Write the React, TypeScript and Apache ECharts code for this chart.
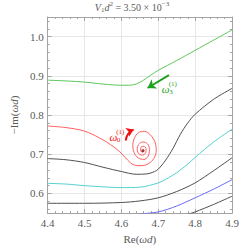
import React, { useEffect, useRef } from "react";
import * as echarts from "echarts";

// ---- data ----
const xRange = [4.4, 4.9];
const yRange = [0.55, 1.05];

const greenCurve: [number, number][] = [
  [4.4, 0.889], [4.45, 0.887], [4.5, 0.884], [4.55, 0.879], [4.6, 0.876], [4.62, 0.876],
  [4.64, 0.879], [4.66, 0.889], [4.68, 0.902], [4.7, 0.914], [4.75, 0.939], [4.8, 0.965],
  [4.85, 0.991], [4.9, 1.017],
];
const blackCurve1: [number, number][] = [
  [4.4, 0.689], [4.45, 0.686], [4.5, 0.679], [4.55, 0.667], [4.6, 0.656], [4.64, 0.649],
  [4.67, 0.650], [4.69, 0.656], [4.7, 0.662], [4.72, 0.685], [4.74, 0.715], [4.76, 0.751],
  [4.78, 0.780], [4.8, 0.802], [4.85, 0.840], [4.9, 0.868],
];
const cyanCurve: [number, number][] = [
  [4.4, 0.626], [4.45, 0.624], [4.5, 0.620], [4.55, 0.617], [4.6, 0.615], [4.65, 0.616],
  [4.7, 0.627], [4.72, 0.636], [4.75, 0.653], [4.78, 0.675], [4.8, 0.692], [4.85, 0.731],
  [4.9, 0.764],
];
const blackCurve2: [number, number][] = [
  [4.4, 0.575], [4.5, 0.575], [4.6, 0.577], [4.65, 0.581], [4.7, 0.589], [4.75, 0.605],
  [4.8, 0.627], [4.85, 0.658], [4.9, 0.691],
];
const blueCurve: [number, number][] = [
  [4.65, 0.548], [4.7, 0.553], [4.75, 0.568], [4.8, 0.589], [4.85, 0.611], [4.9, 0.635],
];
const blackCurve3: [number, number][] = [
  [4.78, 0.547], [4.8, 0.553], [4.85, 0.572], [4.9, 0.593],
];
const redCurve: [number, number][] = [
  [4.4, 0.772], [4.45, 0.768], [4.5, 0.759], [4.54, 0.742], [4.57, 0.725], [4.596, 0.706],
  [4.617, 0.685], [4.633, 0.6733], [4.653, 0.6709], [4.673, 0.6758], [4.688, 0.6894],
  [4.6945, 0.7091], [4.691, 0.7314], [4.678, 0.7499], [4.662, 0.7585], [4.646, 0.7548],
  [4.636, 0.7425], [4.631, 0.724], [4.6345, 0.7042], [4.646, 0.6906], [4.661, 0.6869],
  [4.672, 0.6943], [4.676, 0.7116], [4.671, 0.7264], [4.658, 0.7314], [4.647, 0.7252],
  [4.643, 0.7116], [4.648, 0.7005], [4.658, 0.698], [4.666, 0.7042], [4.667, 0.7141],
  [4.661, 0.7202], [4.653, 0.7178], [4.652, 0.7091], [4.658, 0.7054], [4.662, 0.7104],
  [4.658, 0.7128],
];
const spiralCenter: [number, number][] = [[4.658, 0.709]];
const greenArrow: [number, number][] = [[4.729, 0.902], [4.671, 0.869]];
const redArrow: [number, number][] = [[4.612, 0.735], [4.633, 0.763]];
const redLabelAt: [number, number] = [4.578, 0.745];
const greenLabelAt: [number, number] = [4.72, 0.866];
const redLabel = { main: "ω", sub: "0", sup: "(1)" };
const greenLabel = { main: "ω", sub: "3", sup: "(1)" };

const SERIF = "Liberation Serif";
const FRAME = "#a3a3a3";
const TXT = "#5a5a5a";

function isTenth(v: number) {
  return Math.abs(v * 10 - Math.round(v * 10)) < 1e-6;
}

function lineSeries(data: [number, number][], color: string, smooth = 0.3) {
  return {
    type: "line",
    data,
    showSymbol: false,
    smooth,
    lineStyle: { color, width: 1 },
    z: 3,
  };
}

function arrowSeries(coords: [number, number][], color: string, width: number, size: number, curveness: number) {
  return {
    type: "lines",
    coordinateSystem: "cartesian2d",
    xAxisIndex: 0,
    yAxisIndex: 0,
    symbol: ["none", "arrow"],
    symbolSize: size,
    lineStyle: { color, width, curveness, opacity: 1 },
    data: [{ coords }],
    z: 5,
  };
}

export default function App() {
  const ref = useRef<HTMLDivElement>(null);
  useEffect(() => {
    if (!ref.current) return;
    const chart = echarts.init(ref.current, undefined, { renderer: "svg" });
    const axisCommon = {
      type: "value",
      axisLine: { show: true, onZero: false, lineStyle: { color: FRAME, width: 1 } },
      axisTick: { show: true, inside: true, length: 4, lineStyle: { color: FRAME } },
      minorTick: { show: true, splitNumber: 5, length: 2, lineStyle: { color: FRAME } },
    };
    chart.setOption({
      animation: false,
      backgroundColor: "#ffffff",
      grid: { left: 32, right: 17, top: 17, bottom: 31, containLabel: false },
      xAxis: [
        {
          ...axisCommon,
          position: "bottom",
          min: xRange[0],
          max: xRange[1],
          interval: 0.1,
          axisLabel: {
            margin: 4,
            color: TXT,
            fontFamily: SERIF,
            fontSize: 11,
            formatter: (v: number) => (isTenth(v) ? v.toFixed(1) : ""),
          },
          splitLine: { show: true, lineStyle: { color: "#e6e6e6", width: 1 } },
          name: "Re({i|ωd})",
          nameLocation: "middle",
          nameGap: 18,
          nameTextStyle: {
            color: TXT,
            fontFamily: SERIF,
            fontSize: 11,
            verticalAlign: "top",
            rich: { i: { fontStyle: "italic", fontFamily: SERIF, fontSize: 11, color: TXT } },
          },
        },
        {
          ...axisCommon,
          position: "top",
          min: xRange[0],
          max: xRange[1],
          interval: 0.1,
          axisLabel: { show: false },
          splitLine: { show: false },
        },
      ],
      yAxis: [
        {
          ...axisCommon,
          position: "left",
          min: yRange[0],
          max: yRange[1],
          splitNumber: 5,
          axisLabel: {
            margin: 4,
            color: TXT,
            fontFamily: SERIF,
            fontSize: 11,
            formatter: (v: number) => (isTenth(v) ? v.toFixed(1) : ""),
          },
          splitLine: { show: true, lineStyle: { color: "#e6e6e6", width: 1 } },
          name: "−Im({i|ωd})",
          nameLocation: "middle",
          nameGap: 22,
          nameTextStyle: {
            color: TXT,
            fontFamily: SERIF,
            fontSize: 11,
            rich: { i: { fontStyle: "italic", fontFamily: SERIF, fontSize: 11, color: TXT } },
          },
        },
        {
          ...axisCommon,
          position: "right",
          min: yRange[0],
          max: yRange[1],
          splitNumber: 5,
          axisLabel: { show: false },
          splitLine: { show: false },
        },
      ],
      series: [
        lineSeries(greenCurve, "#5cc75c"),
        lineSeries(blackCurve1, "#505050"),
        lineSeries(cyanCurve, "#55d0d0"),
        lineSeries(blackCurve2, "#505050"),
        lineSeries(blueCurve, "#6a6af5"),
        lineSeries(blackCurve3, "#505050"),
        lineSeries(redCurve, "#ff5e5e", 0.35),
        {
          type: "scatter",
          data: spiralCenter,
          symbolSize: 3,
          itemStyle: { color: "#7a1010" },
          z: 4,
        },
        arrowSeries(greenArrow, "#1fa21f", 2, 8, 0),
        arrowSeries(redArrow, "#ee1010", 2, 7, 0.3),
      ],
    });

    const makeLabel = (at: [number, number], lab: { main: string; sub: string; sup: string }, color: string) => {
      const p = chart.convertToPixel({ gridIndex: 0 }, at) as number[];
      const base = { type: "text", z: 10, silent: true };
      return [
        {
          ...base,
          x: p[0],
          y: p[1],
          style: { text: lab.main, fill: color, fontFamily: SERIF, fontStyle: "italic", fontSize: 11, align: "center", verticalAlign: "middle" },
        },
        {
          ...base,
          x: p[0] + 3,
          y: p[1] - 5,
          style: { text: lab.sup, fill: color, fontFamily: SERIF, fontSize: 7, align: "left", verticalAlign: "middle" },
        },
        {
          ...base,
          x: p[0] + 3.5,
          y: p[1] + 3,
          style: { text: lab.sub, fill: color, fontFamily: SERIF, fontSize: 7, align: "left", verticalAlign: "middle" },
        },
      ];
    };

    chart.setOption({
      graphic: [
        {
          type: "text",
          x: 132,
          y: 7,
          silent: true,
          style: {
            text: "{i|V}{s|1}{i|d}{p|2}{n| = 3.50 × 10}{p|−3}",
            align: "center",
            verticalAlign: "middle",
            fill: TXT,
            rich: {
              i: { fontStyle: "italic", fontFamily: SERIF, fontSize: 10, fill: TXT, lineHeight: 13 },
              n: { fontFamily: SERIF, fontSize: 10, fill: TXT, lineHeight: 13 },
              s: { fontFamily: SERIF, fontSize: 7, fill: TXT, lineHeight: 7, verticalAlign: "bottom" },
              p: { fontFamily: SERIF, fontSize: 7, fill: TXT, lineHeight: 7, verticalAlign: "top" },
            },
          },
          z: 10,
        },
        ...makeLabel(redLabelAt, redLabel, "#ee1010"),
        ...makeLabel(greenLabelAt, greenLabel, "#1fa21f"),
      ],
    });

    return () => chart.dispose();
  }, []);
  return <div ref={ref} style={{ position: "fixed", left: 0, top: 0, width: 249, height: 249 }} />;
}
